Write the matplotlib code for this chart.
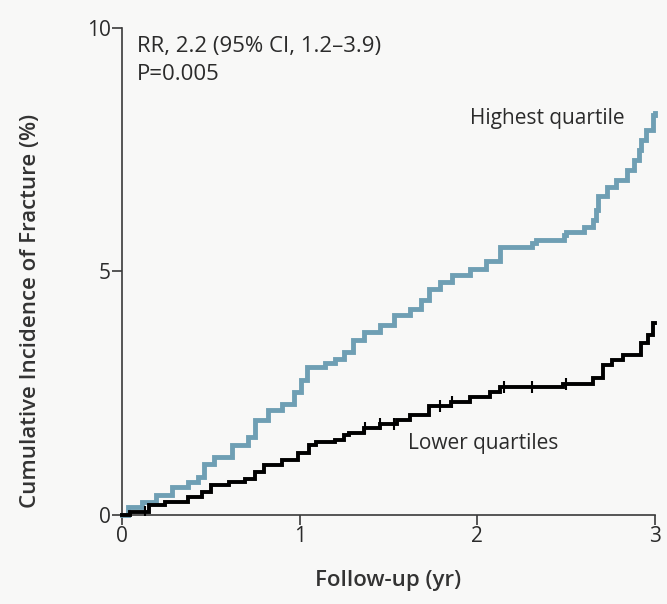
import numpy as np
import matplotlib
matplotlib.use("Agg")
import matplotlib.pyplot as plt

# Datos (anos de seguimiento, incidencia acumulada %)
tiempo_alto = [0.0, 0.035, 0.11, 0.19, 0.28, 0.37, 0.43, 0.46, 0.52, 0.62, 0.71, 0.75,
               0.82, 0.90, 0.97, 1.01, 1.04, 1.14, 1.20, 1.25, 1.30, 1.36, 1.45, 1.53,
               1.62, 1.68, 1.73, 1.79, 1.86, 1.96, 2.05, 2.13, 2.31, 2.33, 2.49, 2.50,
               2.60, 2.65, 2.67, 2.68, 2.73, 2.78, 2.84, 2.88, 2.91, 2.92, 2.95, 2.99,
               3.0]
incid_alto = [0.0, 0.17, 0.27, 0.41, 0.58, 0.68, 0.79, 1.06, 1.20, 1.44, 1.61, 1.95,
              2.16, 2.29, 2.53, 2.77, 3.05, 3.12, 3.20, 3.35, 3.59, 3.76, 3.90, 4.11,
              4.24, 4.41, 4.65, 4.79, 4.93, 5.05, 5.22, 5.50, 5.58, 5.65, 5.75, 5.82,
              5.92, 6.06, 6.26, 6.54, 6.74, 6.88, 7.08, 7.29, 7.50, 7.70, 7.91, 8.21,
              8.25]

tiempo_bajo = [0.0, 0.045, 0.15, 0.24, 0.37, 0.45, 0.50, 0.60, 0.69, 0.75, 0.80, 0.90,
               0.99, 1.05, 1.09, 1.20, 1.25, 1.28, 1.36, 1.45, 1.55, 1.62, 1.73, 1.85,
               1.96, 2.07, 2.13, 2.48, 2.65, 2.71, 2.76, 2.82, 2.92, 2.96, 2.99, 3.0]
incid_bajo = [0.0, 0.07, 0.21, 0.27, 0.38, 0.48, 0.62, 0.68, 0.75, 0.89, 1.03, 1.13,
              1.27, 1.44, 1.51, 1.54, 1.64, 1.68, 1.78, 1.88, 1.96, 2.05, 2.24, 2.33,
              2.43, 2.53, 2.64, 2.70, 2.81, 3.08, 3.18, 3.29, 3.53, 3.70, 3.94, 3.94]

# censuras (marcas verticales) en la curva de cuartiles bajos
censuras_bajo = [0.13, 1.37, 1.45, 1.53, 1.79, 1.86, 2.15, 2.31, 2.50]

ticks_x = [0, 1, 2, 3]
ticks_y = [0, 5, 10]

color_fondo = '#f8f8f7'
color_azul = '#6f9fb4'
color_eje = '#3a3a3a'
color_texto = '#2b2b2b'
fuente = 'Open Sans'

fig = plt.figure(figsize=(6.67, 6.04), dpi=100, facecolor=color_fondo)
ax = fig.add_axes([0.183, 0.147, 0.799, 0.807])
ax.set_facecolor(color_fondo)

ax.plot(tiempo_alto, incid_alto, drawstyle='steps-post', color=color_azul,
        lw=3.5, solid_joinstyle='miter', clip_on=False, zorder=3)
ax.plot(tiempo_bajo, incid_bajo, drawstyle='steps-post', color='black',
        lw=2.8, solid_joinstyle='miter', clip_on=False, zorder=4)

# marcas de censura sobre la curva escalonada
idx = np.searchsorted(tiempo_bajo, censuras_bajo, side='right') - 1
y_cens = np.array(incid_bajo)[idx]
ax.plot(censuras_bajo, y_cens, ls='none', marker='|', ms=9, mew=1.5,
        color='black', zorder=5)

ax.set_xlim(0, 3)
ax.set_ylim(0, 10)
ax.set_xticks(ticks_x)
ax.set_yticks(ticks_y)
ax.set_xticklabels([str(t) for t in ticks_x], fontsize=15, family=fuente, color=color_texto)
ax.set_yticklabels([str(t) for t in ticks_y], fontsize=15, family=fuente, color=color_texto)

for lado in ['top', 'right']:
    ax.spines[lado].set_visible(False)
for lado in ['left', 'bottom']:
    ax.spines[lado].set_color(color_eje)
    ax.spines[lado].set_linewidth(1.2)
ax.tick_params(direction='out', length=7, width=1.2, color=color_eje, pad=1)

ax.set_xlabel('Follow-up (yr)', fontsize=16, family=fuente, fontweight='semibold',
              color='#333333')
ax.set_ylabel('Cumulative Incidence of Fracture (%)', fontsize=16, family=fuente,
              fontweight='semibold', color='#333333')
ax.xaxis.set_label_coords(0.499, -0.112)
ax.yaxis.set_label_coords(-0.152, 0.42)

ax.text(0.084, 9.51, 'RR, 2.2 (95% CI, 1.2\u20133.9)', fontsize=16, family=fuente,
        color=color_texto, va='baseline', ha='left')
ax.text(0.084, 8.93, 'P=0.005', fontsize=16, family=fuente,
        color=color_texto, va='baseline', ha='left')
ax.text(2.83, 8.03, 'Highest quartile', fontsize=15, family=fuente,
        color=color_texto, va='baseline', ha='right')
ax.text(1.61, 1.36, 'Lower quartiles', fontsize=15, family=fuente,
        color=color_texto, va='baseline', ha='left')

fig.savefig('out.png', dpi=100, facecolor=color_fondo)
